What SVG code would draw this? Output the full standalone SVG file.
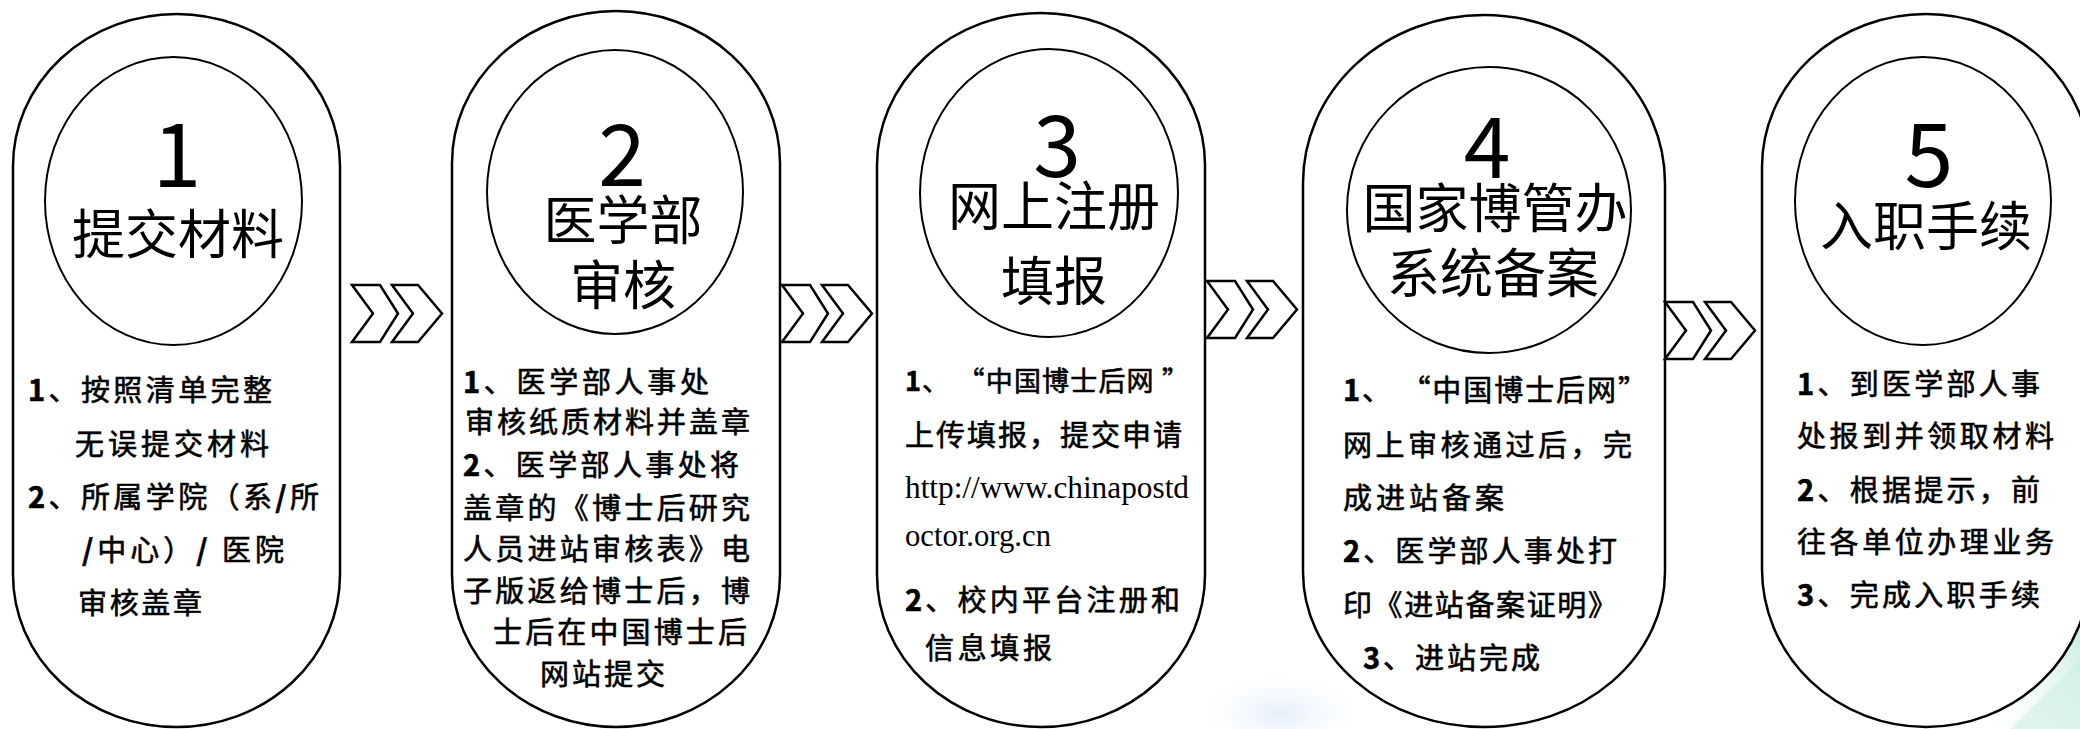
<svg xmlns="http://www.w3.org/2000/svg" xmlns:xlink="http://www.w3.org/1999/xlink" width="2080" height="729" viewBox="0 0 2080 729">
<style>
.cap{fill:#fff;stroke:#000;stroke-width:2.5}
.circ{fill:none;stroke:#000;stroke-width:2}
.chev{fill:#fff;stroke:#000;stroke-width:2.5;stroke-linejoin:miter}
.num{font-family:"Noto Sans CJK SC","Noto Sans",sans-serif;font-size:88px;text-anchor:middle;fill:#000}
.ttl{font-family:"Noto Sans CJK SC",sans-serif;font-size:53px;text-anchor:middle;fill:#000}
.body{font-family:"Noto Sans CJK SC",sans-serif;font-size:29px;fill:#000;stroke:#000;stroke-width:0.6}
.b{font-weight:bold}
.url{font-family:"Liberation Serif","Times New Roman",serif;font-size:31px;fill:#000}
</style>
<defs>
<g id="chev">
<polygon class="chev" points="0,0 28,0 46,28.5 28,57 0,57 21,28.5"/>
<polygon class="chev" points="40,0 66,0 90,28.5 66,57 40,57 61,28.5"/>
</g>
<linearGradient id="teal" x1="0" y1="1" x2="1" y2="0">
<stop offset="0" stop-color="#ffffff" stop-opacity="0"/>
<stop offset="1" stop-color="#bfe8dd"/>
</linearGradient>
<radialGradient id="blue" cx="0.5" cy="0.8" r="0.6">
<stop offset="0" stop-color="#e3f0f9"/>
<stop offset="1" stop-color="#ffffff" stop-opacity="0"/>
</radialGradient>
</defs>
<rect width="2080" height="729" fill="#fff"/>
<g id="background">
<rect x="1200" y="650" width="160" height="79" fill="url(#blue)"/>
<polygon points="1960,729 2080,610 2080,729" fill="url(#teal)"/>
<polygon points="2010,729 2080,660 2080,729" fill="#cdeee6" opacity="0.6"/>
</g>
<g id="node1">
<path class="cap" d="M13,166 A163.5,152 0 0 1 340,166 L340,575 A163.5,152 0 0 1 13,575 Z"/>
<ellipse class="circ" cx="173.5" cy="201" rx="128.5" ry="144"/>
<text class="num" x="177" y="187">1</text>
<text class="ttl" x="178" y="254">提交材料</text>
<text class="body" x="28" y="401" textLength="244" lengthAdjust="spacing"><tspan class="b">1</tspan>、按照清单完整</text>
<text class="body" x="75" y="455" textLength="194" lengthAdjust="spacing">无误提交材料</text>
<text class="body" x="28" y="508" textLength="291" lengthAdjust="spacing"><tspan class="b">2</tspan>、所属学院（系<tspan class="b">/</tspan>所</text>
<text class="body" x="82" y="561" textLength="202" lengthAdjust="spacing"><tspan class="b">/</tspan>中心）<tspan class="b">/</tspan> 医院</text>
<text class="body" x="78" y="614" textLength="124" lengthAdjust="spacing">审核盖章</text>
</g>
<g id="node2">
<path class="cap" d="M452,163 A164,152 0 0 1 780,163 L780,575 A164,152 0 0 1 452,575 Z"/>
<ellipse class="circ" cx="615" cy="192" rx="128" ry="142"/>
<text class="num" x="622" y="186" style="font-size:86px">2</text>
<text class="ttl" x="623" y="240">医学部</text>
<text class="ttl" x="623" y="305">审核</text>
<text class="body" x="463" y="393" textLength="246" lengthAdjust="spacing"><tspan class="b">1</tspan>、医学部人事处</text>
<text class="body" x="465" y="433" textLength="285" lengthAdjust="spacing">审核纸质材料并盖章</text>
<text class="body" x="463" y="476" textLength="276" lengthAdjust="spacing"><tspan class="b">2</tspan>、医学部人事处将</text>
<text class="body" x="463" y="519" textLength="287" lengthAdjust="spacing">盖章的《博士后研究</text>
<text class="body" x="463" y="560" textLength="287" lengthAdjust="spacing">人员进站审核表》电</text>
<text class="body" x="463" y="602" textLength="287" lengthAdjust="spacing">子版返给博士后，博</text>
<text class="body" x="493" y="643" textLength="254" lengthAdjust="spacing">士后在中国博士后</text>
<text class="body" x="540" y="685" textLength="125" lengthAdjust="spacing">网站提交</text>
</g>
<g id="node3">
<path class="cap" d="M877,165 A164,152 0 0 1 1205,165 L1205,575 A164,152 0 0 1 877,575 Z"/>
<ellipse class="circ" cx="1049" cy="193" rx="129" ry="144"/>
<text class="num" x="1057" y="177" style="font-size:86px">3</text>
<text class="ttl" x="1054" y="226">网上注册</text>
<text class="ttl" x="1054" y="301">填报</text>
<text class="body" x="905" y="391" textLength="284" lengthAdjust="spacing" style="font-size:27px"><tspan class="b">1</tspan>、 “中国博士后网 ”</text>
<text class="body" x="905" y="446" textLength="277" lengthAdjust="spacing">上传填报，提交申请</text>
<text class="url" x="905" y="498" textLength="284" lengthAdjust="spacingAndGlyphs">http://www.chinapostd</text>
<text class="url" x="905" y="546" textLength="146" lengthAdjust="spacingAndGlyphs">octor.org.cn</text>
<text class="body" x="905" y="611" textLength="275" lengthAdjust="spacing"><tspan class="b">2</tspan>、校内平台注册和</text>
<text class="body" x="925" y="659" textLength="127" lengthAdjust="spacing">信息填报</text>
</g>
<g id="node4">
<path class="cap" d="M1303,183 A181,168 0 0 1 1665,183 L1665,572 A181,155 0 0 1 1303,572 Z"/>
<ellipse class="circ" cx="1489" cy="210" rx="142" ry="143"/>
<text class="num" x="1487" y="178" style="font-size:84px">4</text>
<text class="ttl" x="1495" y="228">国家博管办</text>
<text class="ttl" x="1493" y="293">系统备案</text>
<text class="body" x="1343" y="401" textLength="304" lengthAdjust="spacing"><tspan class="b">1</tspan>、  “中国博士后网”</text>
<text class="body" x="1343" y="456" textLength="289" lengthAdjust="spacing">网上审核通过后，完</text>
<text class="body" x="1343" y="509" textLength="161" lengthAdjust="spacing">成进站备案</text>
<text class="body" x="1343" y="562" textLength="274" lengthAdjust="spacing"><tspan class="b">2</tspan>、医学部人事处打</text>
<text class="body" x="1343" y="616" textLength="274" lengthAdjust="spacing">印《进站备案证明》</text>
<text class="body" x="1363" y="669" textLength="177" lengthAdjust="spacing"><tspan class="b">3</tspan>、进站完成</text>
</g>
<g id="node5">
<path class="cap" d="M1762,167 A164,153 0 0 1 2090,167 L2090,569 A164,158 0 0 1 1762,569 Z"/>
<ellipse class="circ" cx="1923" cy="201" rx="128" ry="144"/>
<text class="num" x="1929" y="187">5</text>
<text class="ttl" x="1926" y="246">入职手续</text>
<text class="body" x="1797" y="395" textLength="243" lengthAdjust="spacing"><tspan class="b">1</tspan>、到医学部人事</text>
<text class="body" x="1797" y="447" textLength="257" lengthAdjust="spacing">处报到并领取材料</text>
<text class="body" x="1797" y="501" textLength="243" lengthAdjust="spacing"><tspan class="b">2</tspan>、根据提示，前</text>
<text class="body" x="1797" y="553" textLength="257" lengthAdjust="spacing">往各单位办理业务</text>
<text class="body" x="1797" y="606" textLength="243" lengthAdjust="spacing"><tspan class="b">3</tspan>、完成入职手续</text>
</g>
<g id="connectors">
<use xlink:href="#chev" x="352" y="285"/>
<use xlink:href="#chev" x="782" y="285"/>
<use xlink:href="#chev" x="1207" y="281"/>
<use xlink:href="#chev" x="1665" y="302"/>
</g>
</svg>
